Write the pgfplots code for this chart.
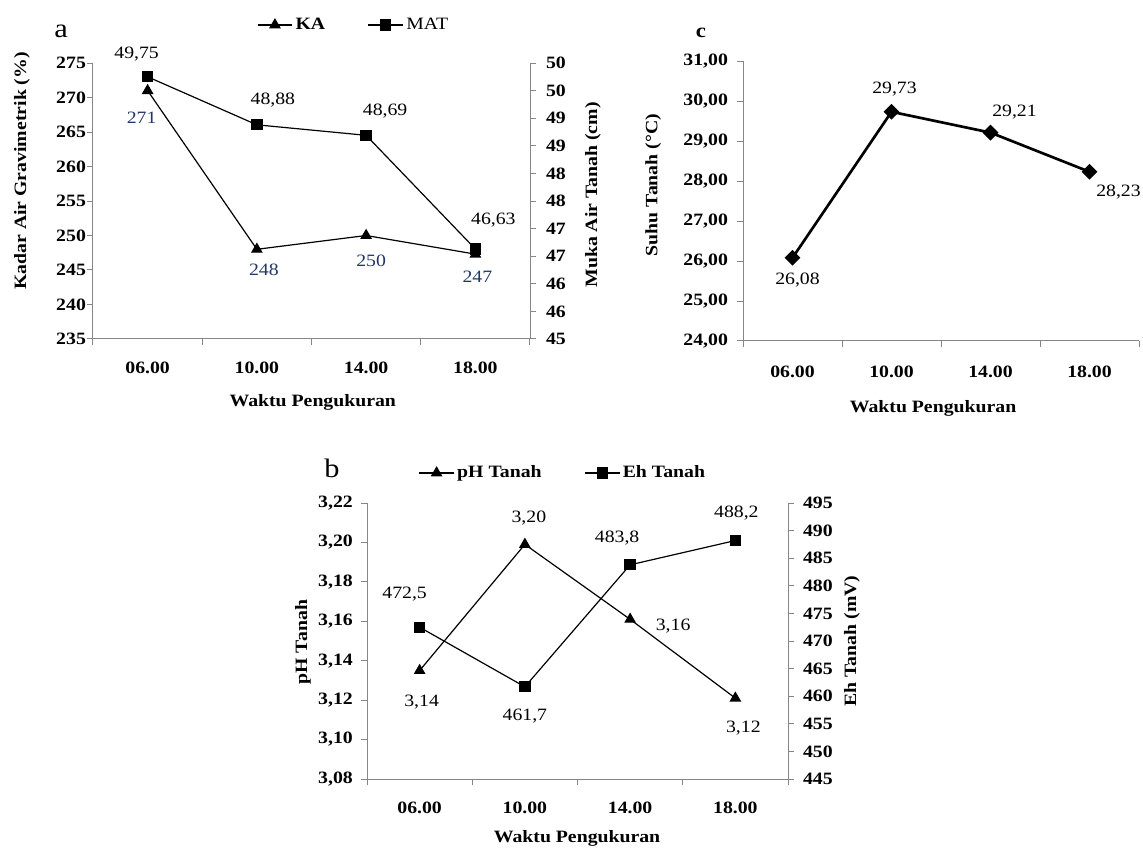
\documentclass[border=0pt]{standalone}
\usepackage{fontspec}
\setmainfont{Liberation Serif}[FakeStretch=1.14]
\usepackage{pgfplots}
\pgfplotsset{compat=1.18}

\definecolor{axgray}{RGB}{134,134,134}
\definecolor{labblue}{RGB}{31,56,100}
\newcommand{\fs}{\fontsize{13}{15.5}\selectfont}

\pgfplotsset{
  panel/.style={
    scale only axis, clip=false,
    xmin=-0.5, xmax=3.5,
    tick align=outside, major tick length=4.5pt,
    axis line style={axgray, line width=0.75pt},
    tick style={axgray, line width=0.75pt},
    tick label style={font=\fs\bfseries, text=black},
    label style={font=\fs\bfseries},
  },
  cats/.style={
    axis x line*=bottom, axis y line*=left,
    xtick={-0.5,0.5,1.5,2.5,3.5}, xticklabels={,,,,},
    extra x ticks={0,1,2,3},
    extra x tick labels={06.00,10.00,14.00,18.00},
    extra x tick style={major tick length=0pt, tick style={draw=none},
      tick label style={anchor=center, yshift=#1}},
  },
  rightax/.style={hide x axis, axis y line*=right},
  twoleg/.style={
    legend style={draw=none, fill=none, font=\fs, anchor=center,
      legend columns=2, /tikz/every even column/.append style={column sep=30pt}},
    legend image code/.code={\draw[mark repeat=2,mark phase=2,##1]
      plot coordinates {(0pt,0pt) (13pt,0pt) (26pt,0pt)};},
  },
}
% data label: offset in px (y up) from the point
\tikzset{val/.style 2 args={anchor=center, font=\fs, xshift=#1*0.75pt, yshift=#2*0.75pt}}

\begin{document}
\begin{tikzpicture}
\useasboundingbox (0,0) rectangle (857.25pt,-636pt);

% ---- a ----
\begin{axis}[panel, cats=-21.75pt,
  at={(69.75pt,-254.25pt)}, anchor=south west, width=327.75pt, height=207pt,
  ymin=235, ymax=275, ytick={235,240,...,275},
  yticklabels={235,240,245,250,255,260,265,270,275},
  yticklabel style={xshift=2.7pt},
  ylabel={Kadar Air Gravimetrik (\%)},
  ylabel style={at={(axis description cs:-0.1625,0.609)}, anchor=center},
  xlabel={Waktu Pengukuran},
  xlabel style={at={(axis description cs:0.503,-0.228)}, anchor=center},
]
\addplot[black, line width=0.9pt, mark=triangle*, mark size=4.2pt]
  coordinates {(0,271) (1,248) (2,250) (3,247.3)};
\node[val={-6}{-27}, text=labblue] at (axis cs:0,271) {271};
\node[val={7}{-21}, text=labblue] at (axis cs:1,248) {248};
\node[val={5}{-25}, text=labblue] at (axis cs:2,250) {250};
\node[val={2}{-23}, text=labblue] at (axis cs:3,247.3) {247};
\end{axis}
\begin{axis}[panel, rightax, twoleg,
  at={(69.75pt,-254.25pt)}, anchor=south west, width=327.75pt, height=207pt,
  ymin=45, ymax=50, ytick={45,45.5,...,50},
  yticklabels={45,46,46,47,47,48,48,49,49,50,50},
  yticklabel style={xshift=4pt},
  ylabel={Muka Air Tanah (cm)},
  ylabel style={at={(axis description cs:1.144,0.522)}, anchor=center},
  legend style={at={(axis description cs:0.597,1.138)}},
]
\addlegendimage{black, line width=0.9pt, mark=triangle*, mark size=4.2pt}
\addlegendentry{\textbf{KA}}
\addplot[black, line width=0.9pt, mark=square*, mark size=3.8pt]
  coordinates {(0,49.75) (1,48.88) (2,48.69) (3,46.63)};
\addlegendentry{MAT}
\node[val={-11}{23}] at (axis cs:0,49.75) {49,75};
\node[val={16}{25}] at (axis cs:1,48.88) {48,88};
\node[val={19}{24}] at (axis cs:2,48.69) {48,69};
\node[val={18}{29}] at (axis cs:3,46.63) {46,63};
\end{axis}

% ---- c ----
\begin{axis}[panel, cats=-23.25pt,
  at={(557.25pt,-255.75pt)}, anchor=south west, width=297pt, height=210pt,
  ymin=24, ymax=31, ytick={24,25,...,31},
  yticklabels={{24,00},{25,00},{26,00},{27,00},{28,00},{29,00},{30,00},{31,00}},
  yticklabel style={xshift=-3.3pt},
  ylabel={Suhu Tanah (°C)},
  ylabel style={at={(axis description cs:-0.227,0.557)}, anchor=center},
  xlabel={Waktu Pengukuran},
  xlabel style={at={(axis description cs:0.48,-0.239)}, anchor=center},
]
\addplot[black, line width=2pt, mark=square*, mark size=3.2pt,
  mark options={rotate=45}]
  coordinates {(0,26.08) (1,29.73) (2,29.21) (3,28.23)};
\node[val={5}{-22}] at (axis cs:0,26.08) {26,08};
\node[val={3}{23}] at (axis cs:1,29.73) {29,73};
\node[val={24}{21}] at (axis cs:2,29.21) {29,21};
\node[val={29}{-20}] at (axis cs:3,28.23) {28,23};
\end{axis}

% ---- b ----
\begin{axis}[panel, cats=-21.75pt,
  at={(275.25pt,-584.25pt)}, anchor=south west, width=315.75pt, height=207pt,
  ymin=3.08, ymax=3.22, ytick={3.08,3.10,3.12,3.14,3.16,3.18,3.20,3.22},
  yticklabels={{3,08},{3,10},{3,12},{3,14},{3,16},{3,18},{3,20},{3,22}},
  yticklabel style={xshift=-2.6pt},
  ylabel={pH Tanah},
  ylabel style={at={(axis description cs:-0.152,0.496)}, anchor=center},
  xlabel={Waktu Pengukuran},
  xlabel style={at={(axis description cs:0.499,-0.214)}, anchor=center},
]
\addplot[black, line width=0.9pt, mark=triangle*, mark size=4.2pt]
  coordinates {(0,3.135) (1,3.199) (2,3.161) (3,3.121)};
\node[val={2}{-32}] at (axis cs:0,3.135) {3,14};
\node[val={4}{26}] at (axis cs:1,3.199) {3,20};
\node[val={43}{-7}] at (axis cs:2,3.161) {3,16};
\node[val={8}{-30}] at (axis cs:3,3.121) {3,12};
\end{axis}
\begin{axis}[panel, rightax, twoleg,
  at={(275.25pt,-584.25pt)}, anchor=south west, width=315.75pt, height=207pt,
  ymin=445, ymax=495, ytick={445,450,...,495},
  yticklabels={445,450,455,460,465,470,475,480,485,490,495},
  yticklabel style={xshift=3.3pt},
  ylabel={Eh Tanah (mV)},
  ylabel style={at={(axis description cs:1.152,0.5)}, anchor=center},
  legend style={at={(axis description cs:0.466,1.109)}, font=\fs\bfseries},
]
\addlegendimage{black, line width=0.9pt, mark=triangle*, mark size=4.2pt}
\addlegendentry{pH Tanah}
\addplot[black, line width=0.9pt, mark=square*, mark size=3.8pt]
  coordinates {(0,472.5) (1,461.7) (2,483.8) (3,488.2)};
\addlegendentry{Eh Tanah}
\node[val={-15}{33}] at (axis cs:0,472.5) {472,5};
\node[val={0}{-29}] at (axis cs:1,461.7) {461,7};
\node[val={-13}{27}] at (axis cs:2,483.8) {483,8};
\node[val={1}{27}] at (axis cs:3,488.2) {488,2};
\end{axis}

% panel letters
\node[font=\fontsize{20}{24}\selectfont] at (45.75pt,-23.25pt) {a};
\node[font=\fontsize{15}{18}\selectfont\bfseries] at (525.75pt,-24.75pt) {c};
\node[font=\fontsize{20}{24}\selectfont] at (249pt,-351pt) {b};
\end{tikzpicture}
\end{document}
